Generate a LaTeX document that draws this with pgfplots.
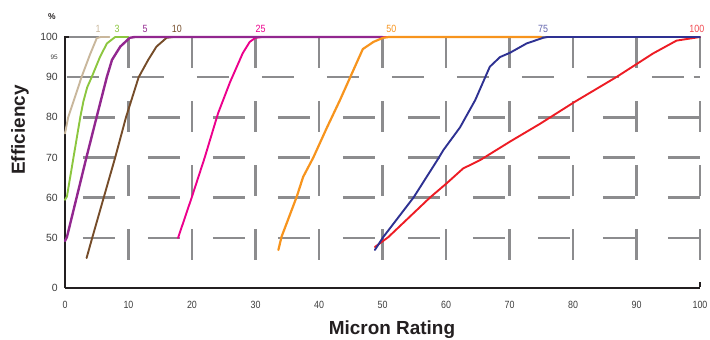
\documentclass[border=0pt]{standalone}
\usepackage{fontspec}
\setmainfont{Liberation Sans}
\newfontfamily\narrowfont[FakeStretch=0.85]{Liberation Sans}
\usepackage{pgfplots}
\pgfplotsset{compat=1.18}
\definecolor{ctan}{HTML}{C9B79C}
\definecolor{cgreen}{HTML}{8CC63F}
\definecolor{cpurple}{HTML}{92278F}
\definecolor{cbrown}{HTML}{754C29}
\definecolor{cpink}{HTML}{EC008C}
\definecolor{corange}{HTML}{F7941D}
\definecolor{cblue}{HTML}{2E3192}
\definecolor{cred}{HTML}{ED1C24}
\definecolor{cgrid}{HTML}{8C8C8E}
\definecolor{caxis}{HTML}{231F20}
\definecolor{ctick}{HTML}{3C3C3C}
\begin{document}
\begin{tikzpicture}
\useasboundingbox (-65bp,-52bp) rectangle (645bp,288bp);
\begin{axis}[
  scale only axis, width=635bp, height=251bp,
  xmin=0, xmax=100, ymin=0, ymax=100,
  y coord trafo/.code={\pgfmathparse{#1<=50 ? #1 : 50+4.02*(#1-50)}},
  axis x line*=bottom, axis y line*=left,
  axis line style={line width=2.5bp, color=caxis},
  xtick={0,10,...,100},
  ytick={0,50,60,70,80,90,95,100},
  yticklabels={0,50,60,70,80,90,{\fontsize{6.5}{7}\selectfont 95},100},
  major tick length=0pt,
  /pgf/number format/assume math mode=true,
  xticklabel style={font=\narrowfont\fontsize{10.5}{12}\selectfont, text=ctick, inner sep=0pt, anchor=base, yshift=-20bp},
  yticklabel style={font=\fontsize{10.5}{12}\selectfont, text=ctick, inner sep=0pt, anchor=east, xshift=-7bp},
  clip=false,
  every axis plot/.append style={line width=1.9bp, line join=round, line cap=round},
]
% grid
\begin{scope}[cgrid, line width=2.6bp]
\pgfplotsinvokeforeach{10,20,30,40,50,60,70,80,90,100}{
  \draw[dash pattern=on 31bp off 33bp] (axis cs:#1,28) -- (axis cs:#1,100);
}
\pgfplotsinvokeforeach{50,60,70,80}{
  \draw[dash pattern=on 32bp off 33bp] (axis cs:2.8,#1) -- (axis cs:100,#1);
}
\pgfplotsinvokeforeach{90,100}{
  \draw[dash pattern=on 32bp off 33bp] (axis cs:0.3,#1) -- (axis cs:100,#1);
  \draw (axis cs:99,#1) -- (axis cs:100,#1);
}
\end{scope}
% curves
\addplot[ctan] coordinates {(0,76) (0.5,80) (2.6,90) (3.9,95.5) (5.0,99.7) (5.6,100) (7,100)};
\addplot[cgreen] coordinates {(0,59.5) (0.3,60.3) (2.4,80) (2.9,84) (3.5,87.5) (4.2,90) (5.5,95) (6.6,98.4) (7.9,100) (10,100)};
\addplot[cbrown] coordinates {(3.4,30) (4.28,50) (7.9,70) (9.6,80) (11.6,90) (13.1,94.3) (14.4,97.6) (16,99.8) (17,100)};
\addplot[cpink] coordinates {(17.8,50) (20,60.3) (22,70) (24.1,81) (26,88.8) (28,96) (29.1,98.8) (30,99.8) (31,100) (62,100)};
\addplot[cpurple, line width=2.4bp] coordinates {(0,47) (0.3,50.2) (3.4,70.2) (5,80.2) (6.6,90.1) (7.4,94.3) (8.7,97.6) (10.2,99.8) (11,100) (50,100)};
\addplot[cred] coordinates {(48.8,41) (50.9,50.2) (57.5,60.1) (60.1,63.6) (62.7,67.3) (65.4,69.4) (70.1,74) (74.8,78.4) (80.3,83.9) (86.9,90.1) (92.6,95.9) (96.3,99.1) (100,100)};
\addplot[corange, line width=2.2bp] coordinates {(33.6,38) (34.1,50.3) (36.5,60.3) (37.5,65.2) (39.1,70) (41.2,77.3) (43.3,84.3) (46.9,97) (48.6,98.8) (50.1,99.8) (51,100) (75,100)};
\addplot[cblue] coordinates {(48.8,38) (50.1,50.2) (54.9,60.1) (58.8,69.8) (59.6,71.9) (62.2,77.5) (64.6,84.3) (66.9,92.6) (68.5,95) (70.1,96.1) (72.7,98.4) (75.3,99.8) (76,100) (100,100)};
% curve labels
\begin{scope}[font=\narrowfont\fontsize{10.5}{12}\selectfont, inner sep=0pt]
\node[text=ctan] at (axis cs:5.2,100) [yshift=8bp] {1};
\node[text=cgreen] at (axis cs:8.2,100) [yshift=8bp] {3};
\node[text=cpurple] at (axis cs:12.6,100) [yshift=8bp] {5};
\node[text=cbrown] at (axis cs:17.6,100) [yshift=8bp] {10};
\node[text=cpink] at (axis cs:30.8,100) [yshift=8bp] {25};
\node[text=corange] at (axis cs:51.4,100) [yshift=8bp] {50};
\node[text=cblue!75] at (axis cs:75.3,100) [yshift=8bp] {75};
\node[text=cred!80] at (axis cs:99.5,100) [yshift=8bp] {100};
\end{scope}
\end{axis}
% axis end ticks
\draw[caxis, line width=2.5bp] (-1.25bp,251bp) -- (4bp,251bp);
\draw[caxis, line width=2.5bp] (635bp,1.25bp) -- (635bp,6bp);
% titles
\node[font=\bfseries\fontsize{8.5}{10}\selectfont, text=caxis, inner sep=0pt] at (-13bp,271bp) {\%};
\node[font=\bfseries\fontsize{19}{22}\selectfont, text=caxis, inner sep=0pt, rotate=90] at (-45bp,158bp) {Efficiency};
\node[font=\bfseries\fontsize{19}{22}\selectfont, text=caxis, inner sep=0pt, anchor=base] at (327bp,-46bp) {Micron Rating};
\end{tikzpicture}
\end{document}
